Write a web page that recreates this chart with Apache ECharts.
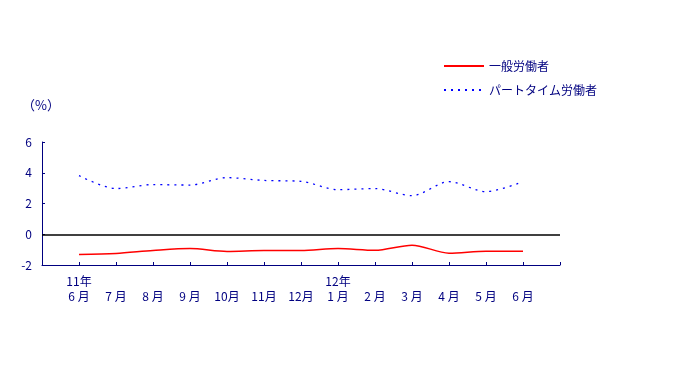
<!DOCTYPE html>
<html><head><meta charset="utf-8">
<script src="https://cdn.jsdelivr.net/npm/echarts@6/dist/echarts.min.js"></script>
<style>html,body{margin:0;padding:0;background:#fff}#c{width:688px;height:383px}</style>
</head><body><div id="c"></div>
<script>
const categories = ['', '11年\n6 月', '\n7 月', '\n8 月', '\n9 月', '\n10月', '\n11月', '\n12月', '12年\n1 月', '\n2 月', '\n3 月', '\n4 月', '\n5 月', '\n6 月', ''];
const general = [null, -1.32, -1.25, -1.06, -0.93, -1.12, -1.06, -1.06, -0.93, -1.04, -0.71, -1.23, -1.10, -1.10, null];
const parttime = [null, 3.81, 2.97, 3.23, 3.20, 3.68, 3.50, 3.44, 2.90, 2.97, 2.51, 3.42, 2.77, 3.42, null];
const yTicks = [-2, 0, 2, 4, 6];
const navy = '#000080';
const font = '"Noto Sans CJK JP", sans-serif';
const chart = echarts.init(document.getElementById('c'));
chart.setOption({
  animation: false,
  textStyle: { fontFamily: font },
  grid: { left: 42, right: 128, top: 142, bottom: 118 },
  graphic: [{ type: 'text', left: 22, top: 99, style: { text: '（%）', fill: navy, font: '13px ' + font } }],
  legend: {
    orient: 'vertical', left: 438, top: 55, itemWidth: 40, itemHeight: 10, itemGap: 12,
    itemStyle: { opacity: 0 },
    textStyle: { color: navy, fontSize: 12, fontFamily: font },
    data: ['一般労働者', 'パートタイム労働者']
  },
  xAxis: {
    type: 'category', data: categories, boundaryGap: false,
    axisLine: { onZero: false, lineStyle: { color: navy, width: 1 } },
    axisTick: { inside: true, length: 3, interval: 0, lineStyle: { color: navy } },
    axisLabel: { interval: 0, color: navy, fontSize: 12, lineHeight: 15, margin: 9, fontFamily: font }
  },
  yAxis: {
    type: 'value', min: yTicks[0], max: yTicks[yTicks.length - 1], interval: 2,
    axisLine: { show: true, lineStyle: { color: navy, width: 1 } },
    axisTick: { show: true, inside: true, length: 3, lineStyle: { color: navy } },
    axisLabel: { color: navy, fontSize: 12, margin: 10, fontFamily: font },
    splitLine: { show: false }
  },
  series: [
    { name: '一般労働者', type: 'line', data: general, symbol: 'none', smooth: 0.3,
      color: '#ff0000', lineStyle: { color: '#ff0000', width: 1.5 },
      markLine: { silent: true, symbol: 'none', label: { show: false },
        lineStyle: { color: '#000', width: 1.5, type: 'solid' }, data: [{ yAxis: 0 }] } },
    { name: 'パートタイム労働者', type: 'line', data: parttime, symbol: 'none', smooth: 0.3,
      color: '#0000ff', lineStyle: { color: '#0000ff', width: 1.3, type: [2, 5] } }
  ]
});
</script></body></html>
